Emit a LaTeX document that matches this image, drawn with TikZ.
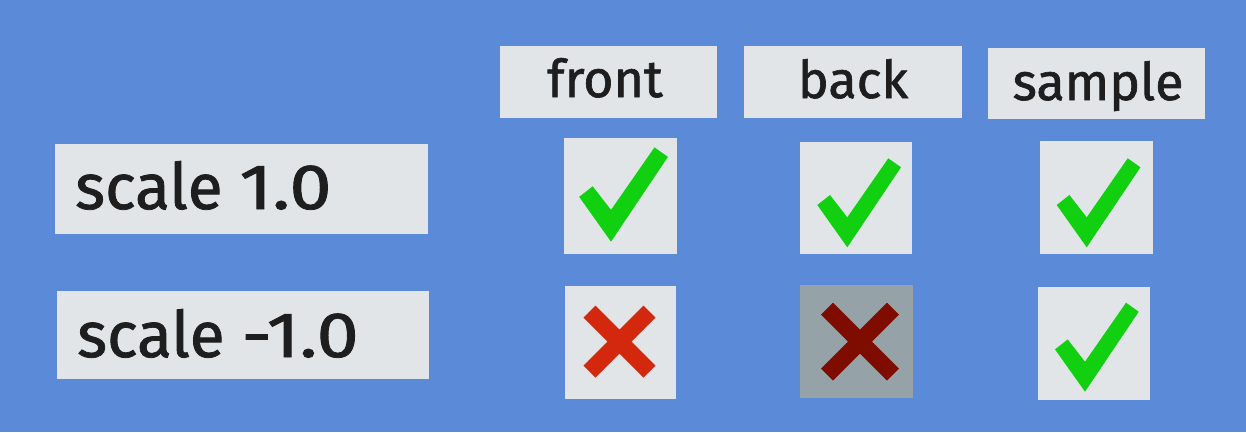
\documentclass[tikz,border=0pt]{standalone}
\usepackage{graphicx}
\usepackage{fontspec}
\setmainfont{Fira Sans}[FakeBold=1.2]
\definecolor{bgblue}{HTML}{5A8AD8}
\definecolor{boxgray}{HTML}{E1E5E7}
\definecolor{darkbox}{HTML}{95A3A8}
\definecolor{tickgreen}{HTML}{10D010}
\definecolor{crossred}{HTML}{D4280E}
\definecolor{crossdark}{HTML}{7E0D00}
\definecolor{txt}{HTML}{1E1E1E}
\tikzset{
  panel/.style={fill=boxgray, draw=none, inner sep=0pt},
  hlabel/.style={anchor=base, text=txt, inner sep=0pt, font=\fontsize{52}{52}\selectfont},
  rlabel/.style={anchor=base west, text=txt, inner sep=0pt, font=\fontsize{64}{64}\selectfont},
  tick/.pic={\fill[tickgreen] (-30,-42.3) -- (-17.3,-52.3) -- (0,-30) -- (41,-89) -- (53.7,-80) -- (0,0) -- cycle;},
  cross/.pic={\draw[line width=17pt, line cap=butt, pic actions] (-30,-30) -- (30,30) (-30,30) -- (30,-30);},
}
\begin{document}
\begin{tikzpicture}[x=1pt, y=-1pt]
\useasboundingbox (0,0) rectangle (1246,432);
\fill[bgblue] (0,0) rectangle (1246,432);
% header panels
\node[panel, minimum width=217pt, minimum height=72pt] (hfront) at (608.5,81.5) {};
\node[panel, minimum width=218pt, minimum height=72pt] (hback) at (853,82) {};
\node[panel, minimum width=217pt, minimum height=71pt] (hsample) at (1096.5,83) {};
\node[hlabel] (tfront) at (605,97) {front};
\node[hlabel] (tback) at (853,98) {back};
\node[hlabel] (tsample) at (1098,100) {sample};
% row panels
\node[panel, minimum width=373pt, minimum height=90pt] (rone) at (241.5,189) {};
\node[panel, minimum width=372pt, minimum height=88pt] (rtwo) at (243,335) {};
\node[rlabel] (tone) at (75,209) {scale \scalebox{1.18}[1]{1.0}};
\node[rlabel] (ttwo) at (77,357) {scale \scalebox{1.18}[1]{-1.0}};
% cells
\node[panel, minimum width=113pt, minimum height=116pt] (c11) at (620.5,196) {};
\node[panel, minimum width=112pt, minimum height=112pt] (c12) at (856,198) {};
\node[panel, minimum width=113pt, minimum height=113pt] (c13) at (1096,197.5) {};
\node[panel, minimum width=111pt, minimum height=113pt] (c21) at (620.5,342.5) {};
\node[panel, fill=darkbox, minimum width=113pt, minimum height=113pt] (c22) at (856.5,341.5) {};
\node[panel, minimum width=112pt, minimum height=113pt] (c23) at (1094,343) {};
% marks
\pic[scale=1.06] at (611,241.7) {tick};
\pic at (847.3,247.3) {tick};
\pic at (1086.7,247.3) {tick};
\pic at (1085,391.7) {tick};
\pic[crossred] at (619.5,341.7) {cross};
\pic[crossdark, scale=1.1] at (860,341.7) {cross};
\end{tikzpicture}
\end{document}
